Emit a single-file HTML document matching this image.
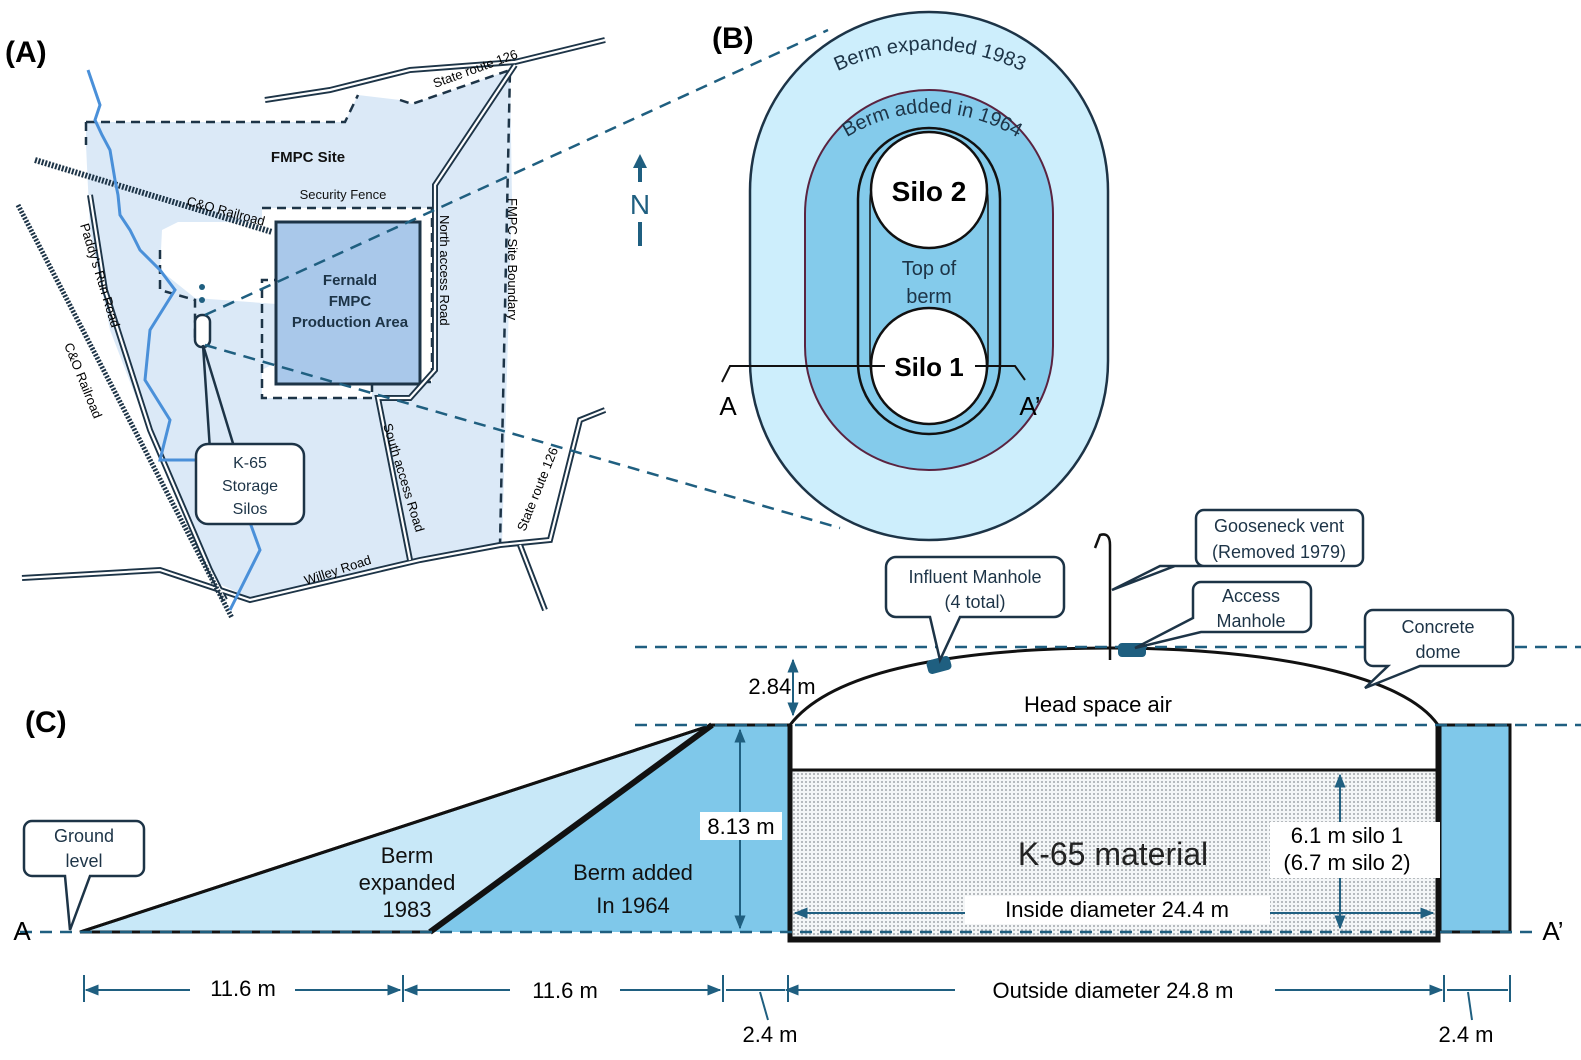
<!DOCTYPE html>
<html><head><meta charset="utf-8"><style>body{margin:0;background:#fff}svg{display:block}text{font-family:"Liberation Sans",sans-serif}</style></head><body>
<svg width="1581" height="1060" viewBox="0 0 1581 1060" xmlns="http://www.w3.org/2000/svg">
<defs>
<pattern id="dots" width="4" height="4" patternUnits="userSpaceOnUse"><rect width="4" height="4" fill="#f4f6f7"/><circle cx="2" cy="2" r="0.9" fill="#8a9096"/></pattern>
<marker id="ar" viewBox="0 0 10 10" refX="9" refY="5" markerWidth="7" markerHeight="7" orient="auto-start-reverse"><path d="M0,1 L10,5 L0,9z" fill="#1f5f80"/></marker>
</defs>
<!-- (A) map -->
<text x="5" y="62" font-family="Liberation Serif" font-size="30" font-weight="bold">(A)</text>
<polygon points="86,122 345,122 358,95 400,100 412,104 510,70 512,200 502,545 420,558 250,598 215,582 160,460 110,330 90,230 86,145" fill="#dbe9f7"/>
<polygon points="262,208 432,208 432,382 372,382 372,398 262,398 262,370 290,355 290,305 195,298 160,270 162,230 178,222 262,222" fill="#fff"/>
<path d="M86,122 H345 L358,95 M400,100 L412,104 L510,70 L500,545 M86,122 V145" stroke="#1d3447" stroke-width="2.5" fill="none" stroke-dasharray="9,6"/>
<path d="M262,208 H432 V382 H372 V398 H262 V280 H295 M160,250 V290 L195,300 V340" stroke="#1d3447" stroke-width="2.5" fill="none" stroke-dasharray="9,6"/>
<rect x="276" y="222" width="144" height="162" fill="#a9c8ea" stroke="#1d3447" stroke-width="3"/>
<text x="350" y="285" font-size="15" font-weight="bold" fill="#1d3447" text-anchor="middle">Fernald</text>
<text x="350" y="306" font-size="15" font-weight="bold" fill="#1d3447" text-anchor="middle">FMPC</text>
<text x="350" y="327" font-size="15" font-weight="bold" fill="#1d3447" text-anchor="middle">Production Area</text>
<text x="308" y="162" font-size="15" font-weight="bold" fill="#111" text-anchor="middle">FMPC Site</text>
<text x="343" y="199" font-size="13" fill="#111" text-anchor="middle">Security Fence</text>
<!-- roads -->
<g stroke="#1d3447" stroke-width="6" fill="none"><path d="M265,100 L330,90 L410,70 L515,62 L605,40"/><path d="M515,65 L435,185 V370 L410,398 H378 L410,560"/><path d="M22,578 L160,570 L250,600 L420,560 L500,545 L550,540 L580,420 L605,410"/><path d="M520,545 L545,610"/><path d="M90,195 L105,290 L150,430 L210,570 L225,600"/></g>
<g stroke="#fff" stroke-width="2.2" fill="none"><path d="M265,100 L330,90 L410,70 L515,62 L605,40"/><path d="M515,65 L435,185 V370 L410,398 H378 L410,560"/><path d="M22,578 L160,570 L250,600 L420,560 L500,545 L550,540 L580,420 L605,410"/><path d="M520,545 L545,610"/><path d="M90,195 L105,290 L150,430 L210,570 L225,600"/></g>
<!-- railroads -->
<path d="M35,160 L272,232" stroke="#1d3447" stroke-width="6" stroke-dasharray="2,1.5"/>
<path d="M18,205 L232,618" stroke="#1d3447" stroke-width="5" stroke-dasharray="2,1.5"/>
<!-- creek -->
<path d="M88,70 L100,105 L95,120 L102,135 L110,150 L115,180 L118,195 L120,215 L130,230 L140,250 L160,270 L175,290 L150,330 L145,380 L170,420 L160,460 L205,460 L240,495 L260,550 L230,610" stroke="#4a90d9" stroke-width="3" fill="none"/>
<text transform="translate(186,205) rotate(15)" font-size="13">C&amp;O Railroad</text>
<text transform="translate(80,225) rotate(73)" font-size="13">Paddy's Run Road</text>
<text transform="translate(64,345) rotate(68)" font-size="13">C&amp;O Railroad</text>
<text transform="translate(435,88) rotate(-20)" font-size="13">State route 126</text>
<text transform="translate(440,215) rotate(90)" font-size="13">North access Road</text>
<text transform="translate(508,198) rotate(90)" font-size="13">FMPC Site Boundary</text>
<text transform="translate(383,425) rotate(73)" font-size="13">South access Road</text>
<text transform="translate(525,532) rotate(-68)" font-size="13">State route 126</text>
<text transform="translate(306,585) rotate(-18)" font-size="13">Willey Road</text>
<!-- silos icon -->
<rect x="195" y="315" width="15" height="32" rx="7" fill="#fff" stroke="#1d3447" stroke-width="2.5"/>
<circle cx="202" cy="287" r="3" fill="#1f5f80"/><circle cx="202" cy="300" r="3" fill="#1f5f80"/>
<!-- K-65 callout -->
<path d="M203,345 L210,450 M203,345 L235,450" stroke="#1d3447" stroke-width="2.5"/>
<rect x="196" y="444" width="108" height="80" rx="12" fill="#fff" stroke="#1d3447" stroke-width="2.5"/>
<text x="250" y="468" font-size="16" fill="#1d3447" text-anchor="middle">K-65</text>
<text x="250" y="491" font-size="16" fill="#1d3447" text-anchor="middle">Storage</text>
<text x="250" y="514" font-size="16" fill="#1d3447" text-anchor="middle">Silos</text>
<!-- N arrow -->
<path d="M640,246 V222 M640,182 V160" stroke="#1f5f80" stroke-width="4"/><path d="M633,168 L640,154 L647,168z" fill="#1f5f80"/>
<text x="640" y="214" font-size="28" fill="#1f5f80" text-anchor="middle">N</text>
<!-- zoom lines -->
<path d="M205,315 L828,30 M205,345 L840,528" stroke="#1f5f80" stroke-width="2.5" stroke-dasharray="12,8"/>
<!-- (B) -->
<text x="712" y="48" font-family="Liberation Serif" font-size="30" font-weight="bold">(B)</text>
<rect x="750" y="12" width="358" height="528" rx="179" fill="#cdeefc" stroke="#1d3447" stroke-width="2.5"/>
<rect x="805" y="90" width="248" height="380" rx="124" fill="#84cbeb" stroke="#5a2340" stroke-width="2"/>
<rect x="858" y="128" width="142" height="306" rx="71" fill="none" stroke="#111" stroke-width="2.5"/>
<rect x="870" y="142" width="118" height="278" rx="59" fill="none" stroke="#111" stroke-width="1.5"/>
<circle cx="929" cy="190" r="58" fill="#fff" stroke="#111" stroke-width="2.5"/>
<circle cx="929" cy="366" r="58" fill="#fff" stroke="#111" stroke-width="2.5"/>
<text x="929" y="201" font-size="28" font-weight="bold" text-anchor="middle">Silo 2</text>
<text x="929" y="376" font-size="26" font-weight="bold" text-anchor="middle">Silo 1</text>
<text x="929" y="275" font-size="20" fill="#1d3447" text-anchor="middle">Top of</text>
<text x="929" y="303" font-size="20" fill="#1d3447" text-anchor="middle">berm</text>
<path d="M722,382 L730,366 H885 M975,366 H1015 L1025,380" stroke="#111" stroke-width="2" fill="none"/>
<text x="728" y="415" font-size="26" text-anchor="middle">A</text>
<text x="1030" y="415" font-size="26" text-anchor="middle">A’</text>
<path id="arc1" d="M820,80 Q929,20 1040,80" fill="none"/>
<text font-size="20" fill="#1d3447"><textPath href="#arc1" startOffset="50%" text-anchor="middle">Berm expanded 1983</textPath></text>
<path id="arc2" d="M835,145 Q929,80 1030,145" fill="none"/>
<text font-size="20" fill="#1d3447"><textPath href="#arc2" startOffset="50%" text-anchor="middle">Berm added in 1964</textPath></text>
<!-- (C) -->
<text x="25" y="732" font-family="Liberation Serif" font-size="30" font-weight="bold">(C)</text>
<polygon points="80,932 712,725 430,932" fill="#c8e8f8" stroke="#111" stroke-width="3"/>
<polygon points="430,932 712,725 790,725 790,932" fill="#7fc8ea"/>
<path d="M430,932 L712,725" stroke="#111" stroke-width="6"/>
<path d="M80,932 L712,725 H790" stroke="#111" stroke-width="3" fill="none"/>
<rect x="790" y="770" width="648" height="168" fill="url(#dots)" stroke="#111" stroke-width="3"/>
<path d="M790,725 V940 H1438 V725" stroke="#111" stroke-width="5" fill="none"/>
<rect x="1440" y="725" width="70" height="207" fill="#7fc8ea" stroke="#111" stroke-width="3"/>
<path d="M790,725 C840,660 1000,648 1110,648 C1250,648 1400,670 1438,725" stroke="#111" stroke-width="3" fill="none"/>
<g stroke="#1f5f80" stroke-width="2.5" stroke-dasharray="12,8"><path d="M635,647 H1581"/><path d="M635,725 H1581"/><path d="M20,932 H1540"/></g>
<rect x="927" y="658" width="24" height="14" rx="4" fill="#1f5f80" transform="rotate(-15 939 665)"/>
<rect x="1118" y="643" width="28" height="14" rx="4" fill="#1f5f80"/>
<path d="M1110,660 V545 Q1110,532 1100,535 L1095,548" stroke="#111" stroke-width="2.5" fill="none"/>
<text x="1098" y="712" font-size="22" text-anchor="middle">Head space air</text>
<text x="1113" y="865" font-size="32" fill="#222" text-anchor="middle">K-65 material</text>
<!-- callouts -->
<g stroke="#1d3447" stroke-width="2.5" fill="#fff">
<path d="M886,567 a10,10 0 0 1 10,-10 H1054 a10,10 0 0 1 10,10 V607 a10,10 0 0 1 -10,10 H960 L940,660 L930,617 H896 a10,10 0 0 1 -10,-10z"/>
<path d="M1196,518 a8,8 0 0 1 8,-8 H1355 a8,8 0 0 1 8,8 V558 a8,8 0 0 1 -8,8 H1175 L1112,590 L1160,566 H1204 a8,8 0 0 1 -8,-8z"/>
<path d="M1193,590 a8,8 0 0 1 8,-8 H1303 a8,8 0 0 1 8,8 V624 a8,8 0 0 1 -8,8 H1201 L1135,648 L1193,618z"/>
<path d="M1365,618 a8,8 0 0 1 8,-8 H1505 a8,8 0 0 1 8,8 V658 a8,8 0 0 1 -8,8 H1420 L1365,688 L1388,666 H1373 a8,8 0 0 1 -8,-8z"/>
<path d="M24,829 a8,8 0 0 1 8,-8 H136 a8,8 0 0 1 8,8 V868 a8,8 0 0 1 -8,8 H90 L70,930 L65,876 H32 a8,8 0 0 1 -8,-8z"/>
</g>
<g font-size="18" fill="#1d3447" text-anchor="middle">
<text x="975" y="583">Influent Manhole</text><text x="975" y="608">(4 total)</text>
<text x="1279" y="532">Gooseneck vent</text><text x="1279" y="558">(Removed 1979)</text>
<text x="1251" y="602">Access</text><text x="1251" y="627">Manhole</text>
<text x="1438" y="633">Concrete</text><text x="1438" y="658">dome</text>
<text x="84" y="842">Ground</text><text x="84" y="867">level</text>
</g>
<!-- dims -->
<g stroke="#1f5f80" stroke-width="2" fill="none">
<path d="M793,660 V715" marker-start="url(#ar)" marker-end="url(#ar)"/>
<path d="M740,730 V928" marker-start="url(#ar)" marker-end="url(#ar)"/>
<path d="M1340,775 V928" marker-start="url(#ar)" marker-end="url(#ar)"/>
<path d="M795,913 H1433" marker-start="url(#ar)" marker-end="url(#ar)"/>
<path d="M86,990 H400" marker-start="url(#ar)" marker-end="url(#ar)"/>
<path d="M405,990 H720" marker-start="url(#ar)" marker-end="url(#ar)"/>
<path d="M786,990 H1442" marker-start="url(#ar)" marker-end="url(#ar)"/>
<path d="M726,990 H785 M1447,990 H1508"/>
<path d="M84,975 V1002 M403,975 V1002 M723,975 V1002 M788,975 V1002 M1444,975 V1002 M1510,975 V1002"/>
<path d="M760,992 L768,1020 M1468,992 L1472,1020"/>
</g>
<rect x="700" y="812" width="82" height="28" fill="#fff"/>
<text x="741" y="834" font-size="22" text-anchor="middle">8.13 m</text>
<text x="782" y="694" font-size="22" text-anchor="middle">2.84 m</text>
<rect x="1270" y="822" width="170" height="56" fill="#fff"/>
<text x="1347" y="843" font-size="22" text-anchor="middle">6.1 m silo 1</text>
<text x="1347" y="870" font-size="22" text-anchor="middle">(6.7 m silo 2)</text>
<rect x="965" y="896" width="305" height="28" fill="#fff"/>
<text x="1117" y="917" font-size="22" text-anchor="middle">Inside diameter 24.4 m</text>
<text x="407" y="863" font-size="22" fill="#111" text-anchor="middle">Berm</text>
<text x="407" y="890" font-size="22" fill="#111" text-anchor="middle">expanded</text>
<text x="407" y="917" font-size="22" fill="#111" text-anchor="middle">1983</text>
<text x="633" y="880" font-size="22" fill="#111" text-anchor="middle">Berm added</text>
<text x="633" y="913" font-size="22" fill="#111" text-anchor="middle">In 1964</text>
<text x="22" y="940" font-size="26" text-anchor="middle">A</text>
<text x="1553" y="940" font-size="26" text-anchor="middle">A’</text>
<rect x="190" y="975" width="105" height="28" fill="#fff"/><text x="243" y="996" font-size="22" text-anchor="middle">11.6 m</text>
<rect x="510" y="975" width="110" height="28" fill="#fff"/><text x="565" y="998" font-size="22" text-anchor="middle">11.6 m</text>
<rect x="955" y="975" width="320" height="28" fill="#fff"/><text x="1113" y="998" font-size="22" text-anchor="middle">Outside diameter 24.8 m</text>
<text x="770" y="1042" font-size="22" text-anchor="middle">2.4 m</text>
<text x="1466" y="1042" font-size="22" text-anchor="middle">2.4 m</text>
</svg>
</body></html>
